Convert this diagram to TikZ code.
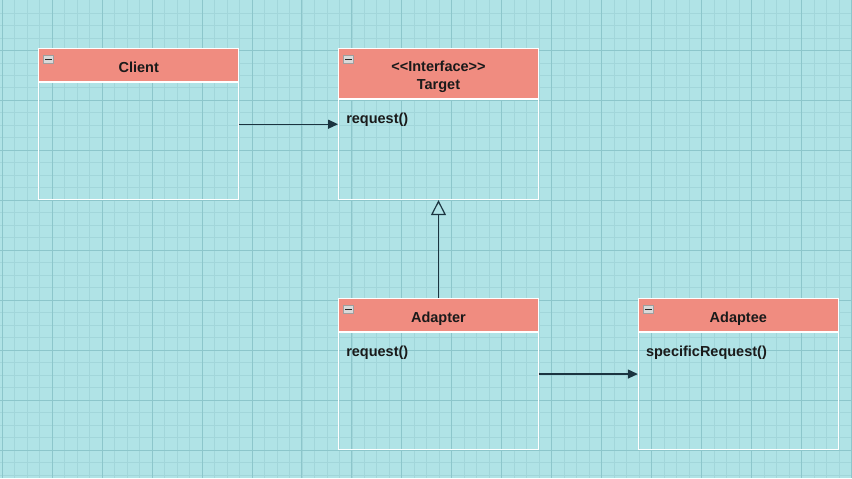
\documentclass[tikz,border=0pt]{standalone}
\usepackage{fontspec}
\setmainfont{Liberation Sans}
\usetikzlibrary{arrows.meta,positioning}

\definecolor{bgteal}{HTML}{B0E3E6}
\definecolor{gridminor}{HTML}{A2D6DA}
\definecolor{gridmajor}{HTML}{8CC6CB}
\definecolor{headsalmon}{HTML}{F08C80}
\definecolor{linkdark}{HTML}{1B3440}
\definecolor{textdark}{HTML}{1A1A1A}

\tikzset{
  classhead/.style={draw=white,fill=headsalmon,minimum width=200pt,inner sep=0pt,line width=1pt},
  classbody/.style={draw=white,minimum width=200pt,inner sep=0pt,line width=1pt},
  title/.style={font=\fontsize{14.5}{18}\selectfont\bfseries,text=textdark,anchor=base,inner sep=0pt},
  member/.style={font=\fontsize{14.5}{18}\selectfont\bfseries,text=textdark,anchor=base west,inner sep=0pt},
  link/.style={draw=linkdark,line width=1.2pt,-{Triangle[length=10pt,width=9pt]}},
  realize/.style={draw=linkdark,line width=1.2pt,-{Triangle[open,length=15pt,width=15pt,fill=bgteal]}},
  minusbox/.style={draw=gray!75,fill=gray!30,minimum width=10pt,minimum height=8pt,inner sep=0pt}
}

\newcommand{\collapsemark}[1]{%
  \node[minusbox,anchor=north west] (#1-m) at ([xshift=5pt,yshift=-7pt]#1-h.north west) {};
  \draw[line width=1.4pt,black!85] ([xshift=-3.5pt]#1-m.center) -- ([xshift=3.5pt]#1-m.center);}

\begin{document}
\begin{tikzpicture}[x=1pt,y=-1pt]
% background and grid
\fill[bgteal] (0,0) rectangle (852,478);
\foreach \gx in {0,1,...,68} \draw[gridminor,line width=0.5pt] ({1.7+12.5*\gx},0) -- ({1.7+12.5*\gx},478);
\foreach \gy in {1,...,38} \draw[gridminor,line width=0.5pt] (0,{12.5*\gy}) -- (852,{12.5*\gy});
\foreach \gx in {0,...,17} \draw[gridmajor,line width=0.6pt] ({1.7+50*\gx},0) -- ({1.7+50*\gx},478);
\foreach \gy in {1,...,9} \draw[gridmajor,line width=0.6pt] (0,{50*\gy}) -- (852,{50*\gy});
\useasboundingbox (0,0) rectangle (852,478);

% Client
\node[classhead,minimum height=33pt,anchor=north west] (client-h) at (38,48) {};
\node[classbody,minimum height=117pt,below=0pt of client-h] (client-b) {};
\node[title] (client-t) at ([yshift=9.5pt]client-h.south) {Client};
\collapsemark{client}

% Target
\node[classhead,minimum height=50pt,anchor=north west] (target-h) at (338,48) {};
\node[classbody,minimum height=100pt,below=0pt of target-h] (target-b) {};
\node[title] (target-s) at ([yshift=27.5pt]target-h.south) {{<}{<}Interface{>}{>}};
\node[title] (target-t) at ([yshift=9.5pt]target-h.south) {Target};
\node[member] (target-r) at ([xshift=8pt,yshift=-24pt]target-b.north west) {request()};
\collapsemark{target}

% Adapter
\node[classhead,minimum height=33pt,anchor=north west] (adapter-h) at (338,298) {};
\node[classbody,minimum height=117pt,below=0pt of adapter-h] (adapter-b) {};
\node[title] (adapter-t) at ([yshift=9.5pt]adapter-h.south) {Adapter};
\node[member] (adapter-r) at ([xshift=8pt,yshift=-24pt]adapter-b.north west) {request()};
\collapsemark{adapter}

% Adaptee
\node[classhead,minimum height=33pt,anchor=north west] (adaptee-h) at (638,298) {};
\node[classbody,minimum height=117pt,below=0pt of adaptee-h] (adaptee-b) {};
\node[title] (adaptee-t) at ([yshift=9.5pt]adaptee-h.south) {Adaptee};
\node[member] (adaptee-r) at ([xshift=8pt,yshift=-24pt]adaptee-b.north west) {specificRequest()};
\collapsemark{adaptee}

% connectors
\draw[link] (client-b.east |- 0,124) -- (target-b.west |- 0,124);
\draw[realize] (adapter-h.north) -- (target-b.south);
\draw[link] (adapter-b.east |- 0,374) -- (adaptee-b.west |- 0,374);
\end{tikzpicture}
\end{document}
